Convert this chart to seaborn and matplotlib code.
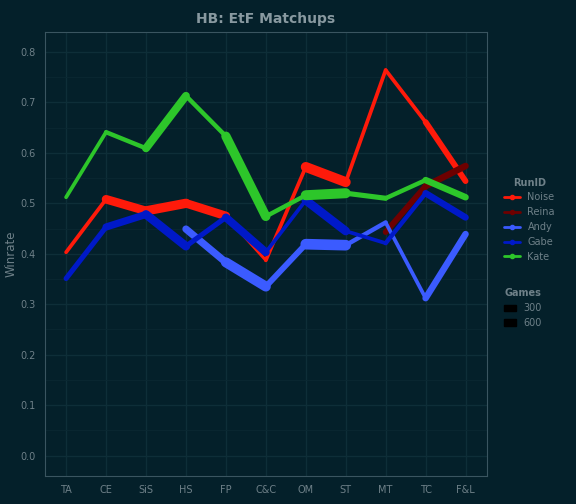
import numpy as np
import pandas as pd
import matplotlib
matplotlib.use("Agg")
import matplotlib.pyplot as plt
import seaborn as sns
from matplotlib.collections import LineCollection
from matplotlib.lines import Line2D
from matplotlib.patches import Patch

# matchups on the x axis
matchups = ["TA", "CE", "SiS", "HS", "FP", "C&C", "OM", "ST", "MT", "TC", "F&L"]

# winrate per player (None = no games)
noise = [0.403, 0.508, 0.485, 0.50, 0.475, 0.387, 0.572, 0.542, 0.764, 0.661, 0.544]
reina = [None, None, None, None, None, None, None, None, 0.443, 0.534, 0.574]
andy = [None, None, None, 0.449, 0.383, 0.335, 0.419, 0.417, 0.462, 0.312, 0.439]
gabe = [0.351, 0.453, 0.478, 0.415, 0.472, 0.403, 0.506, 0.445, 0.421, 0.520, 0.472]
kate = [0.512, 0.641, 0.609, 0.713, 0.633, 0.474, 0.516, 0.520, 0.510, 0.546, 0.512]

# games played per matchup (drives line width)
noise_games = [150, 500, 550, 500, 100, 150, 600, 150, 150, 300, 250]
reina_games = [0, 0, 0, 0, 0, 0, 0, 0, 300, 350, 300]
andy_games = [0, 0, 0, 400, 600, 300, 650, 200, 150, 350, 350]
gabe_games = [250, 400, 500, 250, 450, 150, 500, 150, 200, 350, 300]
kate_games = [150, 200, 450, 200, 550, 200, 600, 250, 200, 350, 350]

players = ["Noise", "Reina", "Andy", "Gabe", "Kate"]
colors = {"Noise": "#ff1a0a", "Reina": "#6e0000", "Andy": "#3b5bff",
          "Gabe": "#0019c8", "Kate": "#2dc62a"}
rates = dict(zip(players, [noise, reina, andy, gabe, kate]))
games = dict(zip(players, [noise_games, reina_games, andy_games, gabe_games, kate_games]))

bg = "#04202a"
txt = "#6e8088"
sns.set_style("dark", {"axes.facecolor": bg, "figure.facecolor": bg,
                       "axes.edgecolor": "#3a5560", "grid.color": "#0e2e38"})

fig, ax = plt.subplots(figsize=(5.76, 5.04), dpi=100)
fig.subplots_adjust(left=0.078, right=0.845, top=0.937, bottom=0.055)

x = np.arange(len(matchups))
for p in players:
    y = np.array([np.nan if v is None else v for v in rates[p]], dtype=float)
    g = np.array(games[p], dtype=float)
    segs, widths = [], []
    for i in range(len(x) - 1):
        if np.isnan(y[i]) or np.isnan(y[i + 1]):
            continue
        segs.append([(x[i], y[i]), (x[i + 1], y[i + 1])])
        widths.append(1.2 + g[i] / 100)
    lc = LineCollection(segs, linewidths=widths, colors=colors[p],
                        capstyle="round", joinstyle="round", zorder=3)
    ax.add_collection(lc)

ax.set_xlim(-0.53, len(matchups) - 0.47)
ax.set_ylim(-0.041, 0.84)
ax.set_xticks(x)
ax.set_xticklabels(matchups)
ax.set_yticks(np.arange(0, 0.81, 0.1))
ax.set_yticks(np.arange(0.05, 0.8, 0.1), minor=True)
ax.grid(True, which="major", color="#0e2e38", lw=1)
ax.grid(True, which="minor", color="#0a2832", lw=0.6)
ax.tick_params(colors=txt, labelsize=7, length=3, which="major")
ax.tick_params(which="minor", length=0)
for s in ax.spines.values():
    s.set_color("#3a5560")
ax.set_ylabel("Winrate", color=txt, fontsize=8.5, labelpad=2)
ax.set_title("HB: EtF Matchups", color="#8899a0", fontsize=10, fontweight="bold")

handles = [Line2D([0], [0], color=colors[p], lw=2, marker="o", markersize=3) for p in players]
leg1 = fig.legend(handles, players, title="RunID", loc="upper left",
                  bbox_to_anchor=(0.86, 0.665), frameon=False, fontsize=7,
                  title_fontproperties={"size": 7, "weight": "bold"},
                  labelcolor=txt, handlelength=1.6)
leg1.get_title().set_color(txt)
gh = [Patch(facecolor="black", edgecolor="black"), Patch(facecolor="black", edgecolor="black")]
leg2 = fig.legend(gh, ["300", "600"], title="Games", loc="upper left",
                  bbox_to_anchor=(0.86, 0.445), frameon=False, fontsize=7,
                  title_fontproperties={"size": 7, "weight": "bold"},
                  labelcolor=txt, handlelength=1.2)
leg2.get_title().set_color(txt)

fig.savefig("out.png", facecolor=bg)
